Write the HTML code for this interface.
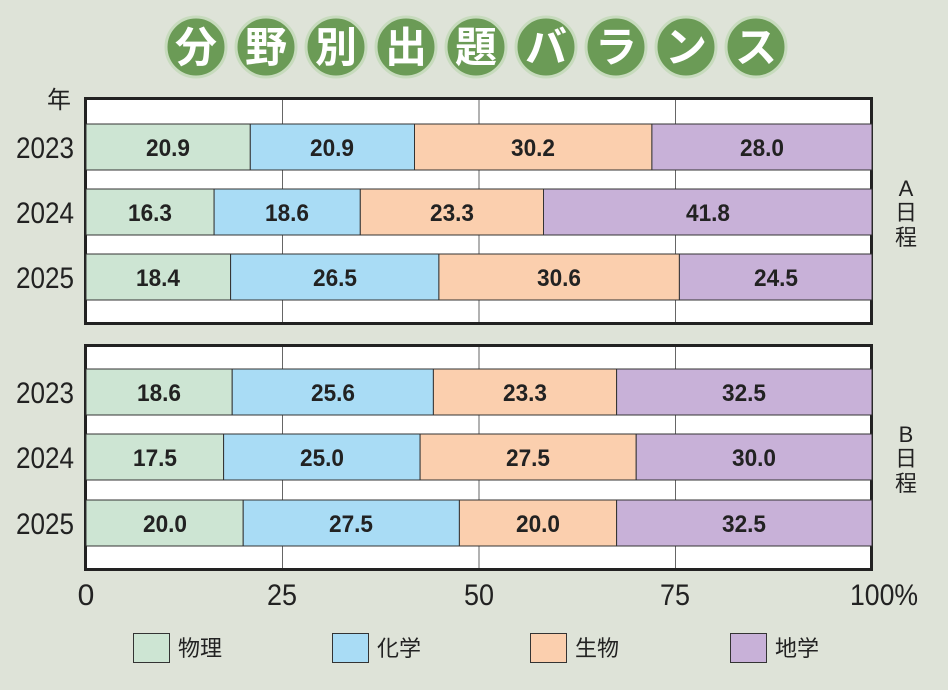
<!DOCTYPE html>
<html><head><meta charset="utf-8"><style>
body{margin:0;background:#dee3d8;}
svg{display:block}
.t{font-family:"Liberation Sans","Noto Sans CJK JP",sans-serif;}
</style></head><body>
<svg width="948" height="690" viewBox="0 0 948 690" xmlns="http://www.w3.org/2000/svg">
<rect width="948" height="690" fill="#dee3d8"/>
<g fill="#6b9b56" stroke="#c7dbbd" stroke-width="3">
<circle cx="196" cy="47" r="30"/><circle cx="266" cy="47" r="30"/><circle cx="336" cy="47" r="30"/><circle cx="406" cy="47" r="30"/><circle cx="476" cy="47" r="30"/><circle cx="546" cy="47" r="30"/><circle cx="616" cy="47" r="30"/><circle cx="686" cy="47" r="30"/><circle cx="756" cy="47" r="30"/>
</g>
<g class="t" fill="#fff" font-size="42" font-weight="bold" text-anchor="middle" font-family="Noto Sans CJK JP, sans-serif">
<text x="196" y="62">分</text><text x="266" y="62">野</text><text x="336" y="62">別</text><text x="406" y="62">出</text><text x="476" y="62">題</text><text x="546" y="62">バ</text><text x="616" y="62">ラ</text><text x="686" y="62">ン</text><text x="756" y="62">ス</text>
</g>
<rect x="85.5" y="98.5" width="786" height="225" fill="#fff" stroke="#222" stroke-width="3"/>
<rect x="85.5" y="345.5" width="786" height="224" fill="#fff" stroke="#222" stroke-width="3"/>
<g stroke="#666" stroke-width="1">
<line x1="282.5" y1="100" x2="282.5" y2="322"/><line x1="479" y1="100" x2="479" y2="322"/><line x1="675.5" y1="100" x2="675.5" y2="322"/>
<line x1="282.5" y1="347" x2="282.5" y2="568"/><line x1="479" y1="347" x2="479" y2="568"/><line x1="675.5" y1="347" x2="675.5" y2="568"/>
</g>
<g stroke="#333" stroke-width="1">
<rect x="86" y="124" width="164.3" height="46" fill="#cde5d3"/><rect x="250.3" y="124" width="164.2" height="46" fill="#a9dcf5"/><rect x="414.5" y="124" width="237.4" height="46" fill="#fbcfae"/><rect x="651.9" y="124" width="220.1" height="46" fill="#c8b1d8"/>
<rect x="86" y="189" width="128.1" height="46" fill="#cde5d3"/><rect x="214.1" y="189" width="146.2" height="46" fill="#a9dcf5"/><rect x="360.3" y="189" width="183.2" height="46" fill="#fbcfae"/><rect x="543.5" y="189" width="328.5" height="46" fill="#c8b1d8"/>
<rect x="86" y="254" width="144.6" height="46" fill="#cde5d3"/><rect x="230.6" y="254" width="208.3" height="46" fill="#a9dcf5"/><rect x="438.9" y="254" width="240.5" height="46" fill="#fbcfae"/><rect x="679.4" y="254" width="192.6" height="46" fill="#c8b1d8"/>
<rect x="86" y="369" width="146.2" height="46" fill="#cde5d3"/><rect x="232.2" y="369" width="201.2" height="46" fill="#a9dcf5"/><rect x="433.4" y="369" width="183.2" height="46" fill="#fbcfae"/><rect x="616.6" y="369" width="255.4" height="46" fill="#c8b1d8"/>
<rect x="86" y="434" width="137.6" height="46" fill="#cde5d3"/><rect x="223.6" y="434" width="196.5" height="46" fill="#a9dcf5"/><rect x="420.1" y="434" width="216.1" height="46" fill="#fbcfae"/><rect x="636.2" y="434" width="235.8" height="46" fill="#c8b1d8"/>
<rect x="86" y="500" width="157.2" height="46" fill="#cde5d3"/><rect x="243.2" y="500" width="216.2" height="46" fill="#a9dcf5"/><rect x="459.4" y="500" width="157.2" height="46" fill="#fbcfae"/><rect x="616.6" y="500" width="255.4" height="46" fill="#c8b1d8"/>
</g>
<g class="t" font-size="24" font-weight="bold" fill="#222" text-anchor="middle">
<g transform="translate(0,156)"><text x="168" textLength="44" lengthAdjust="spacingAndGlyphs">20.9</text><text x="332" textLength="44" lengthAdjust="spacingAndGlyphs">20.9</text><text x="533" textLength="44" lengthAdjust="spacingAndGlyphs">30.2</text><text x="762" textLength="44" lengthAdjust="spacingAndGlyphs">28.0</text></g>
<g transform="translate(0,221)"><text x="150" textLength="44" lengthAdjust="spacingAndGlyphs">16.3</text><text x="287" textLength="44" lengthAdjust="spacingAndGlyphs">18.6</text><text x="452" textLength="44" lengthAdjust="spacingAndGlyphs">23.3</text><text x="708" textLength="44" lengthAdjust="spacingAndGlyphs">41.8</text></g>
<g transform="translate(0,286)"><text x="158" textLength="44" lengthAdjust="spacingAndGlyphs">18.4</text><text x="335" textLength="44" lengthAdjust="spacingAndGlyphs">26.5</text><text x="559" textLength="44" lengthAdjust="spacingAndGlyphs">30.6</text><text x="776" textLength="44" lengthAdjust="spacingAndGlyphs">24.5</text></g>
<g transform="translate(0,401)"><text x="159" textLength="44" lengthAdjust="spacingAndGlyphs">18.6</text><text x="333" textLength="44" lengthAdjust="spacingAndGlyphs">25.6</text><text x="525" textLength="44" lengthAdjust="spacingAndGlyphs">23.3</text><text x="744" textLength="44" lengthAdjust="spacingAndGlyphs">32.5</text></g>
<g transform="translate(0,466)"><text x="155" textLength="44" lengthAdjust="spacingAndGlyphs">17.5</text><text x="322" textLength="44" lengthAdjust="spacingAndGlyphs">25.0</text><text x="528" textLength="44" lengthAdjust="spacingAndGlyphs">27.5</text><text x="754" textLength="44" lengthAdjust="spacingAndGlyphs">30.0</text></g>
<g transform="translate(0,532)"><text x="165" textLength="44" lengthAdjust="spacingAndGlyphs">20.0</text><text x="351" textLength="44" lengthAdjust="spacingAndGlyphs">27.5</text><text x="538" textLength="44" lengthAdjust="spacingAndGlyphs">20.0</text><text x="744" textLength="44" lengthAdjust="spacingAndGlyphs">32.5</text></g>
</g>
<g class="t" font-size="30" fill="#222" text-anchor="middle">
<text x="59" y="108" font-size="24">年</text>
<text x="45" y="158" textLength="58" lengthAdjust="spacingAndGlyphs">2023</text><text x="45" y="223" textLength="58" lengthAdjust="spacingAndGlyphs">2024</text><text x="45" y="288" textLength="58" lengthAdjust="spacingAndGlyphs">2025</text>
<text x="45" y="403" textLength="58" lengthAdjust="spacingAndGlyphs">2023</text><text x="45" y="468" textLength="58" lengthAdjust="spacingAndGlyphs">2024</text><text x="45" y="534" textLength="58" lengthAdjust="spacingAndGlyphs">2025</text>
<text x="86" y="605">0</text><text x="282" y="605" textLength="30" lengthAdjust="spacingAndGlyphs">25</text><text x="479" y="605" textLength="30" lengthAdjust="spacingAndGlyphs">50</text><text x="675" y="605" textLength="30" lengthAdjust="spacingAndGlyphs">75</text><text x="884" y="605" textLength="68" lengthAdjust="spacingAndGlyphs">100%</text>
</g>
<g class="t" font-size="22" fill="#222" text-anchor="middle">
<text x="906" y="196">A</text><text x="906" y="220">日</text><text x="906" y="245">程</text>
<text x="906" y="442">B</text><text x="906" y="466">日</text><text x="906" y="491">程</text>
</g>
<g stroke="#333" stroke-width="1">
<rect x="133.5" y="633.5" width="36" height="29" fill="#cde5d3"/>
<rect x="332.5" y="633.5" width="36" height="29" fill="#a9dcf5"/>
<rect x="530.5" y="633.5" width="36" height="29" fill="#fbcfae"/>
<rect x="730.5" y="633.5" width="36" height="29" fill="#c8b1d8"/>
</g>
<g class="t" font-size="22" fill="#222">
<text x="178" y="656">物理</text><text x="377" y="656">化学</text><text x="575" y="656">生物</text><text x="775" y="656">地学</text>
</g>
</svg>
</body></html>
